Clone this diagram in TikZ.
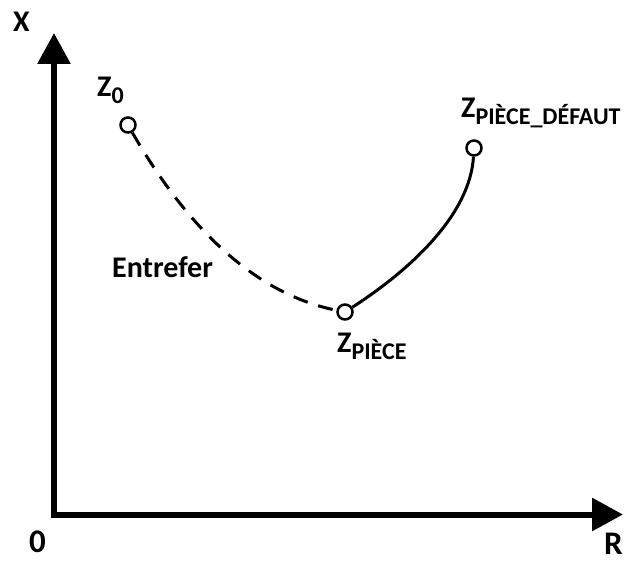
\documentclass[tikz,border=0pt]{standalone}
\usepackage{fontspec}
\setmainfont{Carlito}
\usetikzlibrary{arrows.meta}
\newcommand{\subtxt}[1]{\raisebox{-7pt}{\fontsize{24}{24}\selectfont #1}}
\begin{document}
\begin{tikzpicture}[x=1pt,y=-1pt,
  lbl/.style={font=\bfseries\fontsize{30}{30}\selectfont, inner sep=0pt, anchor=base west},
  axlbl/.style={font=\bfseries\fontsize{33}{33}\selectfont, inner sep=0pt, anchor=base west},
  axis/.style={line width=6pt, line join=miter, {Triangle[width=32pt,length=31pt]}-{Triangle[width=32pt,length=31pt]}},
  pt/.style={circle, draw, line width=2.5pt, fill=white, minimum size=15pt, inner sep=0pt},
  curve/.style={line width=3pt},
  dcurve/.style={line width=3pt, dash pattern=on 15pt off 11pt}]
\useasboundingbox (0,0) rectangle (631,561);
\coordinate (xt) at (54,33);
\coordinate (o) at (54,514.5);
\coordinate (rt) at (623,514.5);
\draw[axis] (xt) -- (o) -- (rt);
\node[pt] (z0) at (128,125) {};
\node[pt] (zp) at (345,312) {};
\node[pt] (zd) at (474,148) {};
\draw[dcurve] (z0) .. controls (178,212) and (245,292) .. (zp);
\draw[curve] (zp) .. controls (410,270) and (470,215) .. (zd);
\node[lbl] (lx) at (13,32) {X};
\node[axlbl] (l0) at (29,552) {0};
\node[axlbl] (lr) at (604,554) {R};
\node[lbl] (lz0) at (97,97) {Z\subtxt{0}};
\node[lbl] (lzp) at (337,352) {Z\subtxt{PIÈCE}};
\node[lbl] (lzd) at (461,118) {Z\subtxt{PIÈCE\_DÉFAUT}};
\node[lbl] (le) at (112,277) {Entrefer};
\end{tikzpicture}
\end{document}
